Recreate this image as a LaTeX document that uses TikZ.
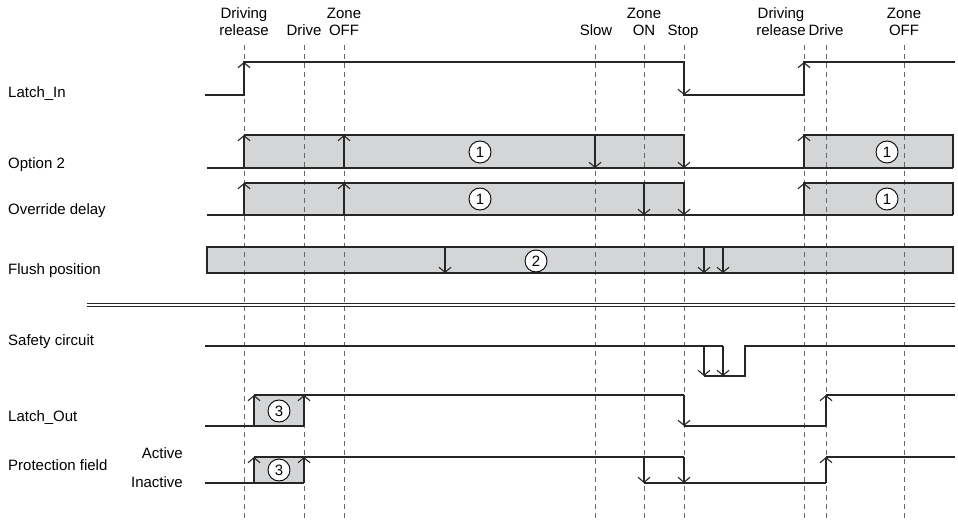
\documentclass[tikz,border=0pt]{standalone}
\usepackage{fontspec}
\setmainfont{Liberation Sans}
\usepackage{xcolor}
\usetikzlibrary{arrows.meta}
\definecolor{boxgray}{RGB}{212,213,214}

\begin{document}
\begin{tikzpicture}[x=1pt,y=-1pt,font=\fontsize{15}{17}\selectfont,
    sig/.style={line width=1.2pt,black!85},
    edge/.style={sig,-{Straight Barb[length=5pt,width=12pt,line width=1.1pt]}},
    marker/.style={line width=1pt,black!60,dash pattern=on 5pt off 4pt},
    lbl/.style={anchor=base,inner sep=0pt},
    sname/.style={anchor=base west,inner sep=0pt},
    num/.style={circle,draw,line width=0.9pt,fill=white,inner sep=0pt,minimum size=22pt}]
  \useasboundingbox (0,0) rectangle (958,521);
  % Shaded intervals (fill only, so the time markers stay visible)
  \fill[boxgray] (244,135) rectangle (684,168);
  \fill[boxgray] (804,135) rectangle (953,168);
  \fill[boxgray] (244,183) rectangle (684,215);
  \fill[boxgray] (804,183) rectangle (953,215);
  \fill[boxgray] (207,247) rectangle (953,273);
  \fill[boxgray] (254,395) rectangle (304,426);
  \fill[boxgray] (254,457) rectangle (304,483);
  % Time markers with their labels
  \foreach \x/\lx/\top/\bot [count=\i] in {
    244/244/Driving/release,
    304/304//Drive,
    344/344/Zone/OFF,
    595/596//Slow,
    644/644/Zone/ON,
    684/683//Stop,
    804/781/Driving/release,
    826/826//Drive,
    904/904/Zone/OFF
  }{
    \draw[marker] (\x,45) -- (\x,521);
    \node[lbl] (top\i) at (\lx,19) {\top};
    \node[lbl] (bot\i) at (\lx,36) {\bot};
  }
  % Signal names
  \node[sname] (latchin)  at (8,97.5)  {Latch\_In};
  \node[sname] (opt)      at (8,168.5) {Option 2};
  \node[sname] (override) at (8,214.5) {Override delay};
  \node[sname] (flush)    at (8,274.5) {Flush position};
  \node[sname] (safety)   at (8,345.5) {Safety circuit};
  \node[sname] (latchout) at (8,421.5) {Latch\_Out};
  \node[sname] (protect)  at (8,470.5) {Protection field};
  \node[anchor=base east,inner sep=0pt] (active)   at (183,458.5) {Active};
  \node[anchor=base east,inner sep=0pt] (inactive) at (183,487.5) {Inactive};

  % Latch_In
  \draw[sig] (205,95) -- (244,95) -- (244,62) -- (684,62) -- (684,95) -- (804,95) -- (804,62) -- (955,62);
  \draw[edge] (244,95) -- (244,62);
  \draw[edge] (684,62) -- (684,95);
  \draw[edge] (804,95) -- (804,62);
  % Option 2
  \draw[sig] (207,168) -- (953,168);
  \draw[sig] (244,135) -- (684,135) -- (684,168);
  \draw[sig] (804,168) -- (804,135) -- (953,135) -- (953,168);
  \foreach \x in {244,344,804} \draw[edge] (\x,168) -- (\x,135);
  \foreach \x in {595,684} \draw[edge] (\x,135) -- (\x,168);
  \node[num] (one1) at (480,152) {1};
  \node[num] (one2) at (887,152) {1};
  % Override delay
  \draw[sig] (207,215) -- (953,215);
  \draw[sig] (244,183) -- (684,183) -- (684,215);
  \draw[sig] (804,215) -- (804,183) -- (953,183) -- (953,215);
  \foreach \x in {244,344,804} \draw[edge] (\x,215) -- (\x,183);
  \foreach \x in {644,684} \draw[edge] (\x,183) -- (\x,215);
  \node[num] (one3) at (480,199) {1};
  \node[num] (one4) at (887,199) {1};
  % Flush position
  \draw[sig] (207,247) rectangle (953,273);
  \foreach \x in {445,704,723} \draw[edge] (\x,247) -- (\x,273);
  \node[num] (two) at (536,261) {2};

  % separator
  \draw[black!85,line width=1pt] (87,303) -- (955,303);
  \draw[black!85,line width=1pt] (87,306.5) -- (955,306.5);

  % Safety circuit
  \draw[sig] (205,346) -- (723,346);
  \draw[sig] (704,376) -- (745,376) -- (745,346) -- (955,346);
  \foreach \x in {704,723} \draw[edge] (\x,346) -- (\x,376);
  % Latch_Out
  \draw[sig] (205,426) -- (304,426);
  \draw[sig] (254,395) -- (684,395);
  \draw[sig] (684,426) -- (826,426);
  \draw[sig] (826,395) -- (955,395);
  \foreach \x in {254,304,826} \draw[edge] (\x,426) -- (\x,395);
  \draw[edge] (684,395) -- (684,426);
  \node[num] (three1) at (279,411) {3};
  % Protection field
  \draw[sig] (205,483) -- (304,483);
  \draw[sig] (254,457) -- (684,457);
  \draw[sig] (644,483) -- (826,483);
  \draw[sig] (826,457) -- (955,457);
  \foreach \x in {254,304,826} \draw[edge] (\x,483) -- (\x,457);
  \foreach \x in {644,684} \draw[edge] (\x,457) -- (\x,483);
  \node[num] (three2) at (279,470) {3};
\end{tikzpicture}
\end{document}
